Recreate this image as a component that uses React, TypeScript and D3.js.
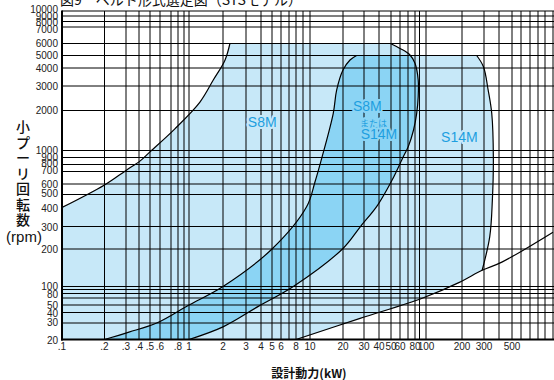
import React from "react";
import * as d3 from "d3";

// ---------- axis calibration (the printed chart uses hand-spaced log grids) ----------
const xGridValues = [0.1,0.2,0.3,0.4,0.5,0.6,0.7,0.8,0.9,1,2,3,4,5,6,7,8,9,10,20,30,40,50,60,70,80,90,100,200,300,400,500,600,700,800,900,1000];
const xGridPixels = [62,104.5,126,139,150,160,171,178,184,189,223,246,261,272,281,289,296,303,310,343,364,379,391,400,408,415,419.5,426,462,484,499,512,521,530,538,545,553];
const xTickLabels = [".1",".2",".3",".4",".5",".6",".8","1","2","3","4","5","6","8","10","20","30","40","50","60","80","100","200","300","500"];
const xTickValues = [0.1,0.2,0.3,0.4,0.5,0.6,0.8,1,2,3,4,5,6,8,10,20,30,40,50,60,80,100,200,300,500];

const yCalValues = [20,30,40,50,60,80,90,100,200,300,400,500,600,700,800,900,1000,2000,3000,4000,5000,6000,7000,8000,9000,10000];
const yCalPixels = [339.5,323,312.5,305,298,293.5,289.5,286.5,249,226.5,207.5,194.5,184,171.5,164.5,157.5,150.5,110.5,86,68,55.5,43.5,27,21.5,16,11];
const yGridValues = [30,40,50,60,80,90,100,200,300,500,600,700,800,900,1000,2000,3000,4000,5000,6000,7000,8000,9000,10000];
const yTickValues = [20,30,40,50,80,100,200,300,400,500,600,700,800,900,1000,2000,3000,4000,5000,6000,7000,8000,9000,10000];
const yLabelPixels = [340,322,313,305,294,286,249,227,208,193,184,170,163.5,157,150,110,86,68,55.5,43.5,29.5,22.5,16,9.5];

// ---------- region boundaries (kW, rpm) ----------
const s8mLeftCurve: [number, number][] = [[0.1,400],[0.2,590],[0.3,715],[0.41,850],[0.5,980],[0.75,1450],[1.25,2300],[1.64,3300],[2.07,4600],[2.26,6000]];
const s8mTopRpm = 6000;
const s8mRightCurve: [number, number][] = [[49.5,6000],[60,5570],[72.7,5040],[80,4350],[87,3300],[87,2515],[83.6,1904],[77.8,1427],[70.3,1068],[63.9,910],[51,628],[39,417],[27.8,297],[20,202],[7.6,100],[3.8,48],[2,27.3],[1,20]];
const s14mLeftCurve: [number, number][] = [[0.2,20],[0.32,24],[0.565,30],[1,50],[2,100],[5,200],[9.5,405],[11.1,615],[12.8,890],[16.3,1905],[17.5,2800],[20,3870],[22.9,4610],[26,5000]];
const s14mTopRpm = 5000;
const s14mRightCurve: [number, number][] = [[262,5000],[297,4090],[325,2800],[348,1905],[359,890],[352,450],[335,250],[290,135]];
const s14mLowerCurve: [number, number][] = [[8,20],[27.8,34],[95,60],[190,108],[290,135],[420,157],[1000,271]];

const regionLabels = [
  { text: "S8M", kw: 4.1, rpm: 1630, size: 14 },
  { text: "S8M", kw: 32, rpm: 2150, size: 14 },
  { text: "または", kw: 36, rpm: 1600, size: 9 },
  { text: "S14M", kw: 40, rpm: 1330, size: 14 },
  { text: "S14M", kw: 190, rpm: 1260, size: 14 },
];

const LIGHT = "#c7e8f8";
const DARK = "#8bd4f4";
const LABEL = "#1e9fe0";

export default function App() {
  const xs = d3.scaleLinear().domain(xGridValues.map(Math.log10)).range(xGridPixels);
  const ys = d3.scaleLinear().domain(yCalValues.map(Math.log10)).range(yCalPixels);
  const ysLab = d3.scaleLinear().domain(yTickValues.map(Math.log10)).range(yLabelPixels);
  const x = (v: number) => xs(Math.log10(v));
  const y = (v: number) => ys(Math.log10(v));

  const x0 = x(0.1), x1 = x(1000), yTop = y(10000), yBot = y(20);

  const smooth = d3.line<[number, number]>().x(p => x(p[0])).y(p => y(p[1])).curve(d3.curveCatmullRom.alpha(0.5));
  const straight = d3.line<[number, number]>().x(p => x(p[0])).y(p => y(p[1]));
  const join = (parts: string[]) => parts.map((s, i) => (i === 0 ? s : "L" + s.slice(1))).join("") + "Z";

  const s8mTop: [number, number][] = [[s8mLeftCurve[s8mLeftCurve.length - 1][0], s8mTopRpm], [s8mRightCurve[0][0], s8mTopRpm]];
  const s14mTop: [number, number][] = [[s14mLeftCurve[s14mLeftCurve.length - 1][0], s14mTopRpm], [s14mRightCurve[0][0], s14mTopRpm]];
  const junction = s14mRightCurve[s14mRightCurve.length - 1];
  const lowerPart = s14mLowerCurve.filter(p => p[0] <= junction[0]).reverse();

  const s8mPath = join([
    straight([[0.1, 20], [0.1, s8mLeftCurve[0][1]]])!,
    smooth(s8mLeftCurve)!,
    straight(s8mTop)!,
    smooth(s8mRightCurve)!,
    straight([[s8mRightCurve[s8mRightCurve.length - 1][0], 20], [0.1, 20]])!,
  ]);
  const s14mPath = join([
    smooth(s14mLeftCurve)!,
    straight(s14mTop)!,
    smooth(s14mRightCurve)!,
    smooth(lowerPart)!,
    straight([[lowerPart[lowerPart.length - 1][0], 20], [s14mLeftCurve[0][0], 20]])!,
  ]);

  const sans = "'Liberation Sans', Arial, Helvetica, sans-serif";
  const jp = "'Noto Sans CJK JP', 'Noto Sans', sans-serif";
  const yTitleChars = ["小", "プ", "ー", "リ", "回", "転", "数"];

  return (
    <div style={{ position: "fixed", left: 0, top: 0 }}>
      <svg width={554} height={380} style={{ display: "block", background: "#fff" }}>
        <defs>
          <clipPath id="clip8">
            <path d={s8mPath} />
          </clipPath>
          <clipPath id="plotclip">
            <rect x={x0} y={yTop} width={x1 - x0 + 2} height={yBot - yTop} />
          </clipPath>
        </defs>

        {/* title (cut at top of the figure) */}
        <text x={60} y={5} fontFamily={jp} fontSize={14} fill="#111">図9　ベルト形式選定図（STSモデル）</text>

        {/* regions */}
        <path d={s8mPath} fill={LIGHT} />
        <path d={s14mPath} fill={LIGHT} />
        <path d={s14mPath} fill={DARK} clipPath="url(#clip8)" />

        {/* grid */}
        <g stroke="#000" strokeWidth={1}>
          {xGridValues.slice(1).map(v => (
            <line key={"gx" + v} x1={x(v)} x2={x(v)} y1={yTop} y2={yBot} />
          ))}
          {yGridValues.map(v => (
            <line key={"gy" + v} x1={x0} x2={x1 + 2} y1={y(v)} y2={y(v)} />
          ))}
        </g>

        {/* boundaries */}
        <g fill="none" stroke="#000" strokeWidth={1.2} clipPath="url(#plotclip)">
          <path d={smooth(s8mLeftCurve)!} />
          <path d={straight(s8mTop)!} />
          <path d={smooth(s8mRightCurve)!} />
          <path d={smooth(s14mLeftCurve)!} />
          <path d={straight(s14mTop)!} />
          <path d={smooth(s14mRightCurve)!} />
          <path d={smooth(s14mLowerCurve)!} />
        </g>

        {/* axes */}
        <line x1={x0} x2={x0} y1={yTop - 0.5} y2={yBot + 1} stroke="#000" strokeWidth={2} />
        <line x1={x0 - 1} x2={x1 + 2} y1={yBot} y2={yBot} stroke="#000" strokeWidth={2} />

        {/* region labels */}
        {regionLabels.map((l, i) => (
          <text key={"rl" + i} x={x(l.kw)} y={y(l.rpm)} textAnchor="middle" dominantBaseline="central"
            fontFamily={l.size < 12 ? jp : sans} fontSize={l.size} fill={LABEL}
            stroke={i === 0 || i === 4 ? LIGHT : DARK} strokeWidth={4} paintOrder="stroke" strokeLinejoin="round">
            {l.text}
          </text>
        ))}

        {/* y tick labels */}
        {yTickValues.map(v => (
          <text key={"yl" + v} x={58} y={ysLab(Math.log10(v))} textAnchor="end" dominantBaseline="central"
            fontFamily={sans} fontSize={10} fill="#222">{v}</text>
        ))}
        {/* x tick labels */}
        {xTickValues.map((v, i) => (
          <text key={"xl" + v} x={x(v)} y={350} textAnchor="middle" fontFamily={sans} fontSize={10} fill="#222">{xTickLabels[i]}</text>
        ))}

        {/* axis titles */}
        {yTitleChars.map((c, i) => (
          <text key={"yt" + i} x={23} y={126 + i * 15.5} textAnchor="middle" dominantBaseline="central"
            fontFamily={jp} fontSize={14} fontWeight={500} fill="#111">{c}</text>
        ))}
        <text x={24} y={236} textAnchor="middle" dominantBaseline="central" fontFamily={sans} fontSize={15} fill="#111">(rpm)</text>
        <text x={309} y={372} textAnchor="middle" dominantBaseline="central" fontFamily={jp} fontSize={12} fontWeight={700} fill="#111">設計動力(kW)</text>
      </svg>
    </div>
  );
}
